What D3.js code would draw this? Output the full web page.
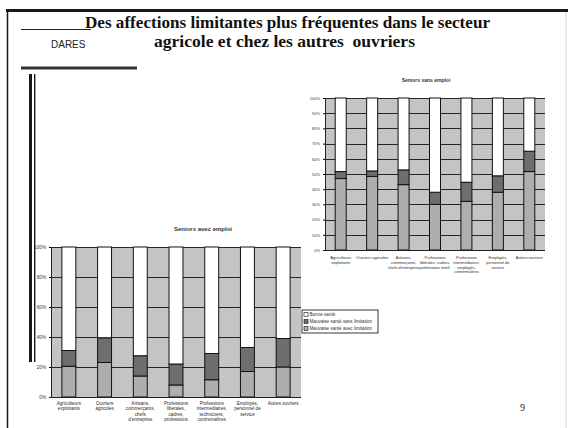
<!DOCTYPE html>
<html>
<head>
<meta charset="utf-8">
<script src="https://cdn.jsdelivr.net/npm/d3@7"></script>
<style>
  html, body { margin: 0; padding: 0; background: #fff; }
  svg { display: block; }
  .keepspace { white-space: pre; }
</style>
</head>
<body>
<svg id="slide" width="568" height="428"></svg>
<script>
// Occupational groups (label lines separated by "|")
const categoriesAvec = [
  "Agriculteurs|exploitants",
  "Ouvriers|agricoles",
  "Artisans,|commerçants,|chefs|d'entreprise",
  "Professions|libérales,|cadres,|professions",
  "Professions|intermédiaires,|techniciens,|contremaîtres",
  "Employés,|personnel de|service",
  "Autres ouvriers"
];
const categoriesSans = [
  "Agriculteurs|exploitants",
  "Ouvriers agricoles",
  "Artisans,|commerçants,|chefs d'entreprise",
  "Professions|libérales, cadres,|professions intell.",
  "Professions|intermédiaires,|employés,|contremaîtres",
  "Employés,|personnel de|service",
  "Autres ouvriers"
];

// Seniors avec emploi (% of each group)
const avecLimitationAvec = [20.5, 23, 14, 8, 11.5, 17, 20];
const sansLimitationAvec = [10.5, 16.5, 13.5, 14, 17.5, 16, 19];

// Seniors sans emploi (% of each group)
const avecLimitationSans = [47, 48.4, 43, 30, 32, 38, 51.6];
const sansLimitationSans = [4.6, 3.6, 9.7, 8, 12.6, 10.8, 13.4];

const seriesNames = ["Bonne santé", "Mauvaise santé sans limitation", "Mauvaise santé avec limitation"];
const ticksAvec = [0, 20, 40, 60, 80, 100];
const ticksSans = [0, 10, 20, 30, 40, 50, 60, 70, 80, 90, 100];

const colors = {
  bg: "#c4c4c4",
  avec: "#aeaeae",
  sans: "#6e6e6e",
  bonne: "#ffffff",
  grid: "#262626"
};

const svg = d3.select("#slide");

// ---- slide frame and decorations ----
svg.append("rect").attr("x", 0).attr("y", 0).attr("width", 568).attr("height", 428).attr("fill", "#fff");
svg.append("line").attr("x1", 6).attr("x2", 568).attr("y1", 10.5).attr("y2", 10.5)
  .attr("stroke", "#1a1a1a").attr("stroke-width", 3);
svg.append("line").attr("x1", 7.5).attr("x2", 7.5).attr("y1", 9).attr("y2", 428)
  .attr("stroke", "#1a1a1a").attr("stroke-width", 1.5);
svg.append("line").attr("x1", 566).attr("x2", 566).attr("y1", 12).attr("y2", 428)
  .attr("stroke", "#d6d6d6").attr("stroke-width", 1);

svg.append("line").attr("x1", 21).attr("x2", 91).attr("y1", 29.5).attr("y2", 29.5)
  .attr("stroke", "#222").attr("stroke-width", 1.2);
svg.append("line").attr("x1", 21).attr("x2", 137).attr("y1", 68).attr("y2", 68)
  .attr("stroke", "#333").attr("stroke-width", 3);
svg.append("rect").attr("x", 29).attr("y", 74).attr("width", 3).attr("height", 288).attr("fill", "#1a1a1a");
svg.append("rect").attr("x", 34).attr("y", 74).attr("width", 1.4).attr("height", 288).attr("fill", "#1a1a1a");

svg.append("text").attr("x", 51).attr("y", 48)
  .attr("font-family", "Liberation Sans, Arial, sans-serif").attr("font-size", 10)
  .attr("fill", "#222").text("DARES");

const titleFont = "Liberation Serif, Times New Roman, serif";
svg.append("text").attr("x", 85).attr("y", 28)
  .attr("font-family", titleFont).attr("font-weight", "bold").attr("font-size", 17.5)
  .attr("textLength", 405).attr("lengthAdjust", "spacingAndGlyphs")
  .attr("fill", "#111").text("Des affections limitantes plus fréquentes dans le secteur");
svg.append("text").attr("class", "keepspace").attr("x", 154).attr("y", 47)
  .attr("font-family", titleFont).attr("font-weight", "bold").attr("font-size", 17.5)
  .attr("textLength", 261).attr("lengthAdjust", "spacingAndGlyphs")
  .attr("fill", "#111").text("agricole et chez les autres  ouvriers");

svg.append("text").attr("x", 520).attr("y", 411)
  .attr("font-family", titleFont).attr("font-size", 10).attr("fill", "#222").text("9");

// ---- stacked 100% column chart ----
function drawChart(cfg) {
  const rows = cfg.categories.map((c, i) => ({
    cat: c,
    avec: cfg.avec[i],
    sans: cfg.sans[i],
    bonne: 100 - cfg.avec[i] - cfg.sans[i]
  }));
  const x = d3.scaleBand().domain(cfg.categories).range([cfg.x0, cfg.x1])
    .paddingInner(cfg.pad).paddingOuter(cfg.pad / 2);
  const y = d3.scaleLinear().domain([0, 100]).range([cfg.y0, cfg.y1]);
  const g = svg.append("g");

  g.append("rect").attr("x", cfg.x0).attr("y", cfg.y1)
    .attr("width", cfg.x1 - cfg.x0).attr("height", cfg.y0 - cfg.y1).attr("fill", colors.bg);

  // gridlines
  g.selectAll(".grid").data(cfg.ticks.filter(t => t > 0)).join("line")
    .attr("x1", cfg.x0).attr("x2", cfg.x1)
    .attr("y1", d => Math.round(y(d)) + 0.5).attr("y2", d => Math.round(y(d)) + 0.5)
    .attr("stroke", colors.grid).attr("stroke-width", 1);

  const stack = d3.stack().keys(["avec", "sans", "bonne"]);
  const layers = stack(rows);
  const fills = { avec: colors.avec, sans: colors.sans, bonne: colors.bonne };
  g.selectAll(".layer").data(layers).join("g")
    .attr("fill", d => fills[d.key])
    .selectAll("rect").data(d => d).join("rect")
    .attr("x", d => x(d.data.cat))
    .attr("width", x.bandwidth())
    .attr("y", d => y(d[1]))
    .attr("height", d => y(d[0]) - y(d[1]))
    .attr("stroke", "#111").attr("stroke-width", 1);

  // y axis
  const yAxis = d3.axisLeft(y).tickValues(cfg.ticks).tickSize(2).tickFormat(d => d + "%");
  const ya = g.append("g").attr("transform", `translate(${cfg.x0},0)`).call(yAxis);
  ya.select(".domain").attr("stroke", "#222");
  ya.selectAll("text").attr("font-family", "Liberation Sans, Arial, sans-serif")
    .attr("font-size", cfg.fs).attr("fill", "#333");

  // x axis baseline
  g.append("line").attr("x1", cfg.x0 - 2).attr("x2", cfg.x1).attr("y1", cfg.y0 + 0.5).attr("y2", cfg.y0 + 0.5)
    .attr("stroke", "#222");

  // category labels
  const lab = g.selectAll(".xl").data(cfg.categories).join("text")
    .attr("text-anchor", "middle")
    .attr("font-family", "Liberation Sans, Arial, sans-serif")
    .attr("font-size", cfg.fs).attr("fill", "#2a2a2a")
    .attr("transform", d => `translate(${x(d) + x.bandwidth() / 2},${cfg.labelY})`);
  lab.selectAll("tspan").data(d => d.split("|")).join("tspan")
    .attr("x", 0).attr("y", (d, i) => i * cfg.lineH).text(d => d);

  // chart title
  g.append("text").attr("x", cfg.titleX).attr("y", cfg.titleY).attr("text-anchor", "middle")
    .attr("font-family", "Liberation Sans, Arial, sans-serif").attr("font-weight", "bold")
    .attr("font-size", cfg.titleFs).attr("fill", "#333").text(cfg.title);
  return { x, y };
}

drawChart({
  title: "Seniors avec emploi", titleX: 203, titleY: 231, titleFs: 6,
  categories: categoriesAvec, avec: avecLimitationAvec, sans: sansLimitationAvec,
  ticks: ticksAvec, x0: 51, x1: 301, y0: 397, y1: 247, pad: 0.61,
  fs: 4.6, labelY: 405, lineH: 5.3
});

drawChart({
  title: "Seniors sans emploi", titleX: 426, titleY: 82, titleFs: 5,
  categories: categoriesSans, avec: avecLimitationSans, sans: sansLimitationSans,
  ticks: ticksSans, x0: 325, x1: 545, y0: 250, y1: 98, pad: 0.65,
  fs: 4, labelY: 259, lineH: 4.8
});

// legend for the "avec emploi" chart
const legend = svg.append("g").attr("transform", "translate(302,310)");
legend.append("rect").attr("width", 76).attr("height", 23)
  .attr("fill", "#fff").attr("stroke", "#222").attr("stroke-width", 0.9);
const legendFill = [colors.bonne, colors.sans, colors.avec];
seriesNames.forEach((name, i) => {
  legend.append("rect").attr("x", 2).attr("y", 2.5 + i * 7).attr("width", 4).attr("height", 4)
    .attr("fill", legendFill[i]).attr("stroke", "#111").attr("stroke-width", 0.6);
  legend.append("text").attr("x", 7.5).attr("y", 6.3 + i * 7)
    .attr("font-family", "Liberation Sans, Arial, sans-serif").attr("font-size", 4.6)
    .attr("fill", "#333").text(name);
});
</script>
</body>
</html>
